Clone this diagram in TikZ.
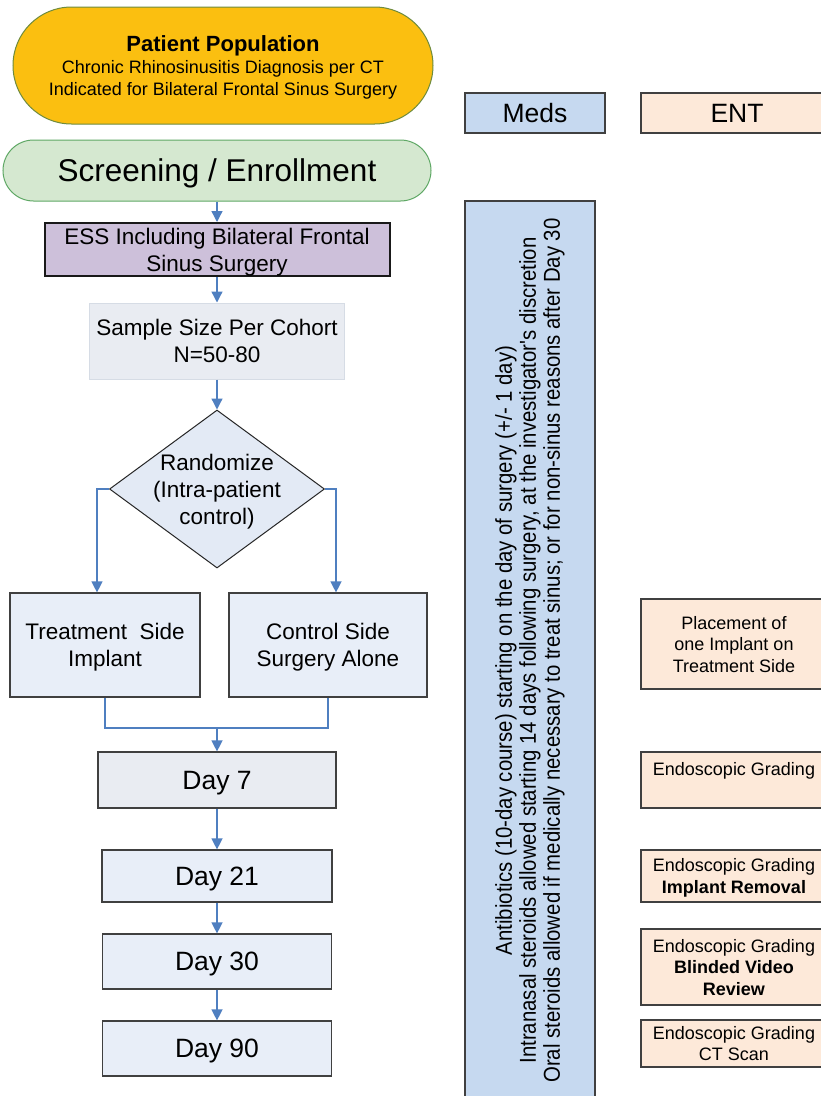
\documentclass[tikz,border=0pt]{standalone}
\usepackage{fontspec}
\setmainfont{Liberation Sans}
\newfontfamily\narrowfont[FakeStretch=0.885]{Liberation Sans}
\usetikzlibrary{arrows.meta,shapes.geometric}

\definecolor{popfill}{HTML}{FBBF10}
\definecolor{popline}{HTML}{6E8B3D}
\definecolor{scrfill}{HTML}{D5E8D0}
\definecolor{scrline}{HTML}{5FA865}
\definecolor{essfill}{HTML}{CDC0DA}
\definecolor{smpfill}{HTML}{E9ECF2}
\definecolor{smpline}{HTML}{D6DCE5}
\definecolor{decfill}{HTML}{E3EAF5}
\definecolor{armfill}{HTML}{E8EEF8}
\definecolor{boxline}{HTML}{404040}
\definecolor{medsfill}{HTML}{C6D9F0}
\definecolor{entfill}{HTML}{FDE9D9}
\definecolor{linkblue}{HTML}{4F7FC0}

\tikzset{
  box/.style={draw=boxline, line width=1.2pt, fill=armfill, inner sep=0pt,
    text depth=0pt, align=center, font=\fontsize{22.5}{27}\selectfont},
  daybox/.style={box, font=\fontsize{26.5}{30}\selectfont},
  entbox/.style={box, fill=entfill, font=\fontsize{18}{21.5}\selectfont},
  arr/.style={draw=linkblue, line width=1.3pt, -{Triangle[width=11pt,length=11pt]}},
  ln/.style={draw=linkblue, line width=1.3pt}
}

\begin{document}
\begin{tikzpicture}[x=1pt,y=-1pt]
  \clip (0,0) rectangle (821,1096);
  \fill[white] (0,0) rectangle (821,1096);

  % left column
  \node[box, fill=popfill, draw=popline, line width=1pt, rounded corners=58.5pt,
    minimum width=420pt, minimum height=117pt, font=\fontsize{18}{22}\selectfont]
    (pop) at (223,65.5) {{\bfseries\fontsize{22}{24}\selectfont Patient Population}\\
    Chronic Rhinosinusitis Diagnosis per CT\\Indicated for Bilateral Frontal Sinus Surgery};
  \node[box, fill=scrfill, draw=scrline, line width=1pt, rounded corners=30.5pt,
    minimum width=428pt, minimum height=61pt, font=\fontsize{31.5}{36}\selectfont]
    (scr) at (217,170.5) {Screening / Enrollment};
  \node[box, fill=essfill, draw=black!90, line width=2pt,
    minimum width=345pt, minimum height=53pt] (ess) at (217,249.5)
    {ESS Including Bilateral Frontal\\Sinus Surgery};
  \node[box, fill=smpfill, draw=smpline, line width=1pt,
    minimum width=255pt, minimum height=76pt] (smp) at (217,341)
    {Sample Size Per Cohort\\N=50-80};
  \node[box, shape=diamond, fill=decfill, draw=black!85, line width=1pt,
    minimum width=215pt, minimum height=158pt,
    label={[align=center, text depth=0pt, font=\fontsize{22.5}{27}\selectfont]center:Randomize\\(Intra-patient\\control)}]
    (rand) at (217,489) {};
  \node[box, minimum width=190pt, minimum height=104pt] (treat) at (105,645)
    {Treatment\ \ Side\\Implant};
  \node[box, minimum width=198pt, minimum height=104pt] (ctrl) at (328,645)
    {Control Side\\Surgery Alone};
  \node[daybox, fill=smpfill, minimum width=238pt, minimum height=56pt] (day7) at (217,780) {Day 7};
  \node[daybox, minimum width=230pt, minimum height=52pt] (day21) at (217,876) {Day 21};
  \node[daybox, minimum width=229pt, minimum height=55pt] (day30) at (217,961.5) {Day 30};
  \node[daybox, minimum width=229pt, minimum height=55pt] (day90) at (217,1048.5) {Day 90};

  % connectors
  \draw[arr] (scr) -- (ess);
  \draw[arr] (ess) -- (smp);
  \draw[arr] (smp) -- (rand);
  \draw[arr] (rand.west) -| ([xshift=-8pt]treat.north);
  \draw[arr] (rand.east) -| ([xshift=8pt]ctrl.north);
  \coordinate (join) at (217,728);
  \draw[ln] (treat.south) |- (join) -| (ctrl.south);
  \draw[arr] (join) -- (day7);
  \draw[arr] (day7) -- (day21);
  \draw[arr] (day21) -- (day30);
  \draw[arr] (day30) -- (day90);

  % meds column
  \node[daybox, fill=medsfill, minimum width=140pt, minimum height=40pt] (meds) at (535,113) {Meds};
  \node[box, fill=medsfill, minimum width=130pt, minimum height=899pt] (medsbar) at (530,650.5) {};
  \node[rotate=90, align=center, inner sep=0pt, font=\narrowfont\fontsize{23}{24}\selectfont]
    (medstext) at (medsbar) {Antibiotics (10-day course) starting on the day of surgery (+/- 1 day)\\
    Intranasal steroids allowed starting 14 days following surgery, at the investigator's discretion\\
    Oral steroids allowed if medically necessary to treat sinus; or for non-sinus reasons after Day 30};

  % ENT column
  \node[daybox, fill=entfill, minimum width=192pt, minimum height=40pt] (ent) at (737,113) {ENT};
  \node[entbox, minimum width=186pt, minimum height=90pt] (place) at (734,644)
    {Placement of\\one Implant on\\Treatment Side};
  \node[entbox, minimum width=186pt, minimum height=56pt] (ent7) at (734,780)
    {Endoscopic Grading\\ \strut};
  \node[entbox, minimum width=186pt, minimum height=52pt] (ent21) at (734,876)
    {Endoscopic Grading\\\textbf{Implant Removal}};
  \node[entbox, minimum width=186pt, minimum height=76pt] (ent30) at (734,967)
    {Endoscopic Grading\\\textbf{Blinded Video}\\\textbf{Review}};
  \node[entbox, minimum width=186pt, minimum height=47pt] (ent90) at (734,1043.5)
    {Endoscopic Grading\\CT Scan};
\end{tikzpicture}
\end{document}
